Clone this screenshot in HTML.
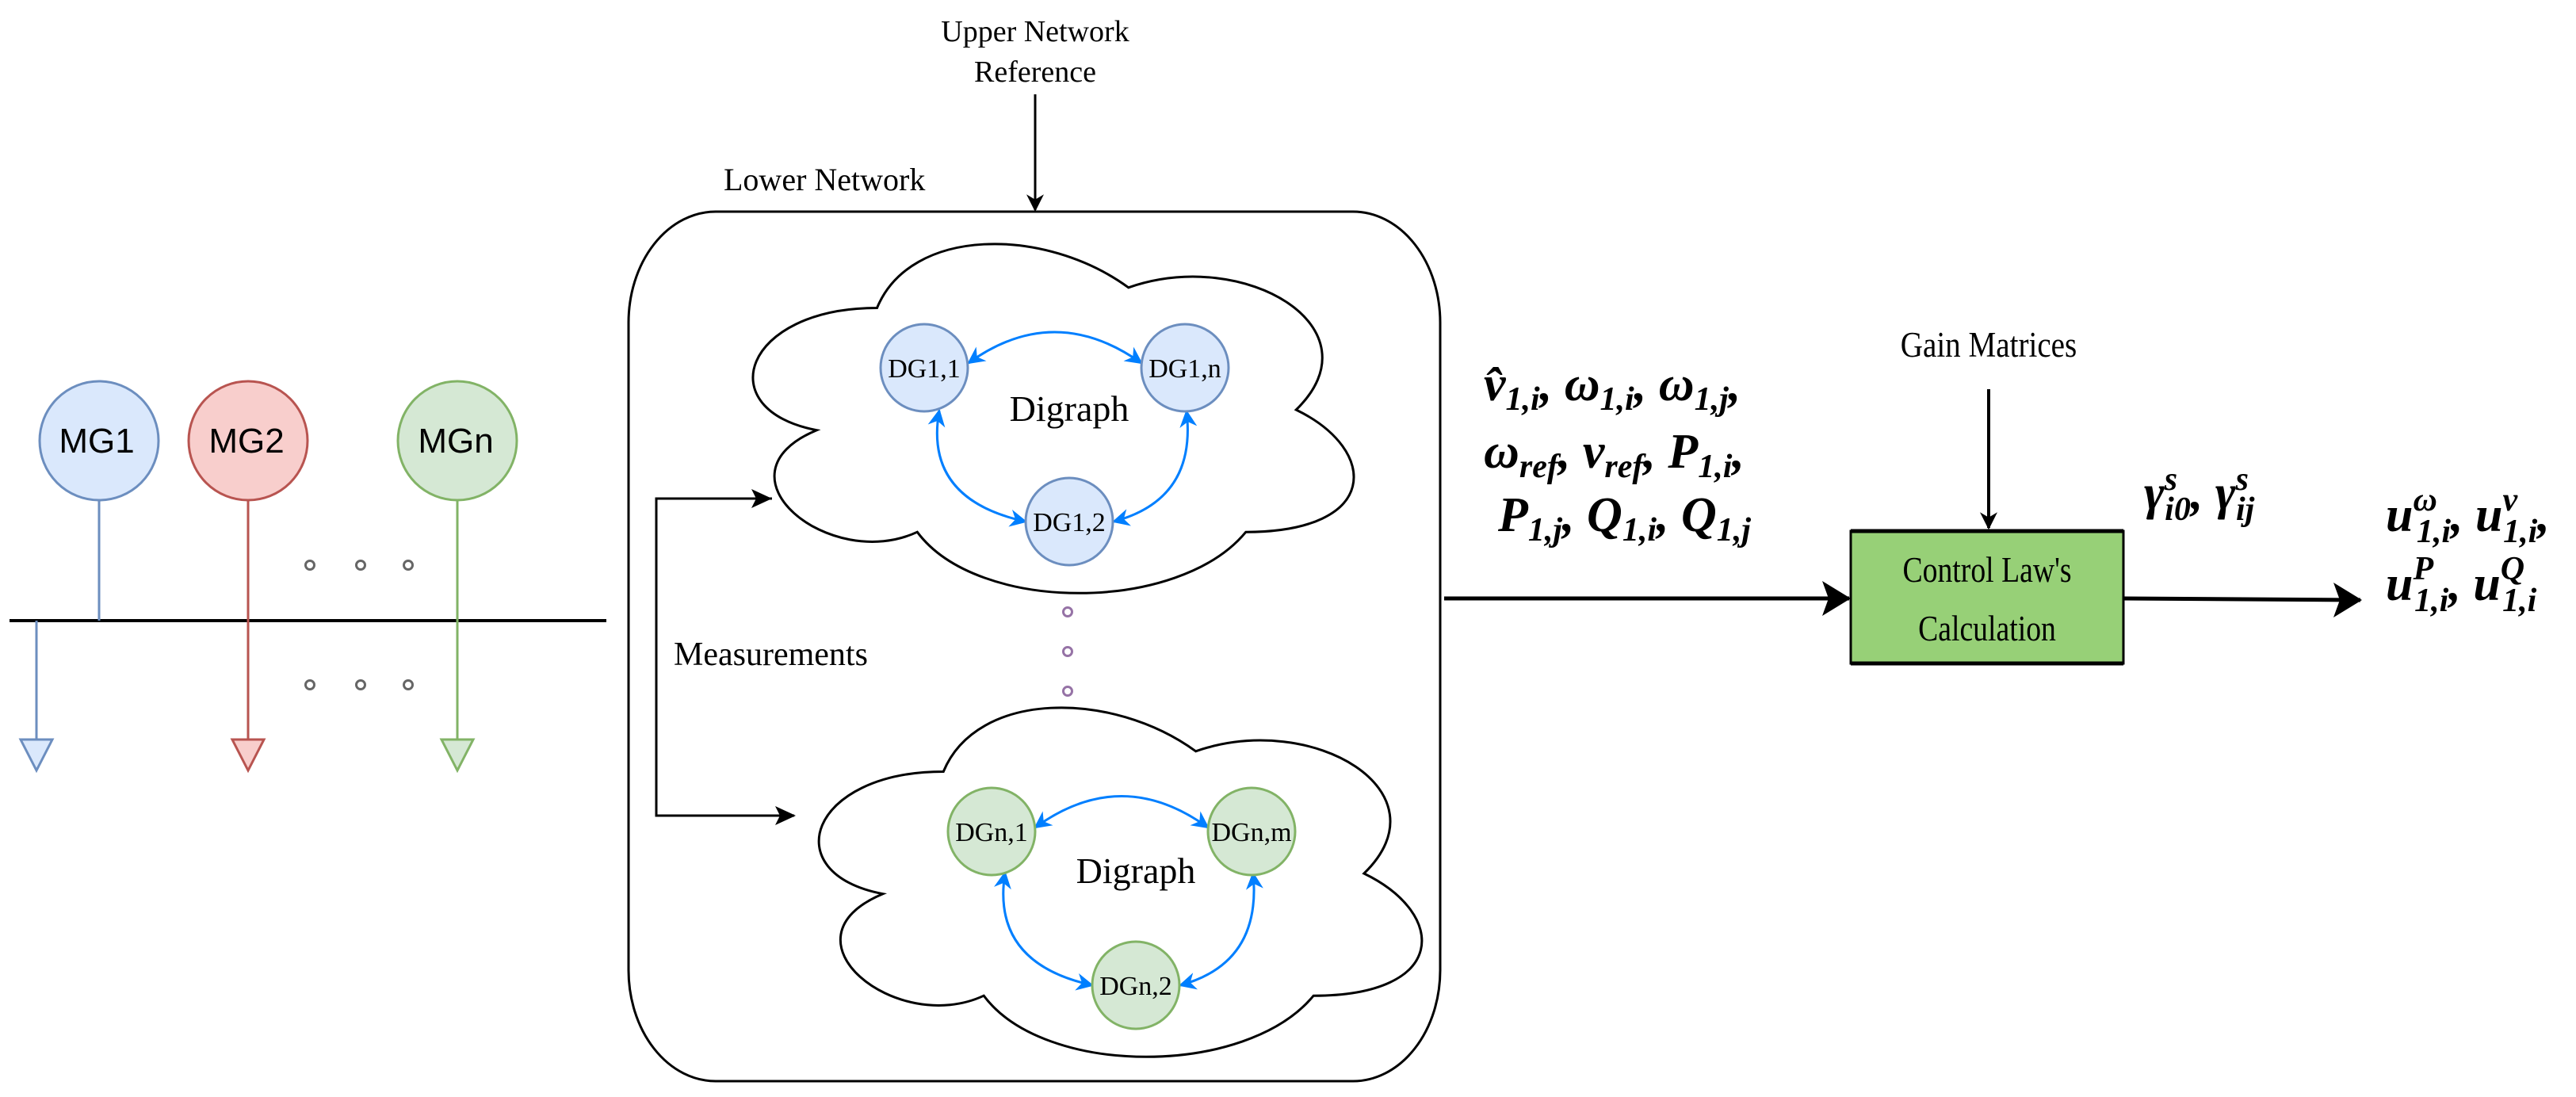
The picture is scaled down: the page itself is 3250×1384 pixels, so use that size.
<!DOCTYPE html>
<html><head><meta charset="utf-8"><style>
html,body{margin:0;padding:0;background:#fff}
svg{display:block}
.s{font-family:"Liberation Serif",serif}
.m{font-family:"Liberation Serif",serif;font-weight:bold;font-style:italic;font-size:62px}
.sub{font-size:42px}
</style></head><body>
<svg width="3250" height="1384" viewBox="0 0 3250 1384" xmlns="http://www.w3.org/2000/svg">
<defs>
<marker id="ab" viewBox="0 0 10 10" refX="9" refY="5" markerWidth="22" markerHeight="22" markerUnits="userSpaceOnUse" orient="auto-start-reverse"><path d="M0,0 L10,5 L0,10 L3,5 Z" fill="#007fff"/></marker>
<marker id="akb" viewBox="0 0 10 10" refX="9" refY="5" markerWidth="22" markerHeight="22" markerUnits="userSpaceOnUse" orient="auto"><path d="M0,0 L10,5 L0,10 L3,5 Z" fill="#000"/></marker>
<path id="cloud" d="M0.25,0.25 C0.05,0.25 0,0.5 0.16,0.55 C0,0.66 0.18,0.9 0.31,0.8 C0.4,1 0.7,1 0.8,0.8 C1,0.8 1,0.6 0.875,0.5 C1,0.3 0.8,0.1 0.625,0.2 C0.5,0.05 0.3,0.05 0.25,0.25 Z" fill="#fff" stroke="#000" stroke-width="3" vector-effect="non-scaling-stroke"/>
</defs>

<!-- Left: microgrids -->
<line x1="12" y1="783" x2="765" y2="783" stroke="#000" stroke-width="4"/>
<line x1="125" y1="631" x2="125" y2="783" stroke="#6c8ebf" stroke-width="3"/>
<line x1="46" y1="783" x2="46" y2="933" stroke="#6c8ebf" stroke-width="3"/>
<polygon points="26,933 66,933 46,972" fill="#dae8fc" stroke="#6c8ebf" stroke-width="3"/>
<line x1="313" y1="631" x2="313" y2="933" stroke="#b85450" stroke-width="3"/>
<polygon points="293,933 333,933 313,972" fill="#f8cecc" stroke="#b85450" stroke-width="3"/>
<line x1="577" y1="631" x2="577" y2="933" stroke="#82b366" stroke-width="3"/>
<polygon points="557,933 597,933 577,972" fill="#d5e8d4" stroke="#82b366" stroke-width="3"/>
<circle cx="125" cy="556" r="75" fill="#dae8fc" stroke="#6c8ebf" stroke-width="3"/>
<circle cx="313" cy="556" r="75" fill="#f8cecc" stroke="#b85450" stroke-width="3"/>
<circle cx="577" cy="556" r="75" fill="#d5e8d4" stroke="#82b366" stroke-width="3"/>
<g font-family="Liberation Sans,sans-serif" font-size="44" text-anchor="middle">
<text x="122" y="571">MG1</text><text x="311" y="571">MG2</text><text x="575" y="571">MGn</text>
</g>
<g fill="none" stroke="#666" stroke-width="3">
<circle cx="391" cy="713" r="5.5"/><circle cx="455" cy="713" r="5.5"/><circle cx="515" cy="713" r="5.5"/>
<circle cx="391" cy="864" r="5.5"/><circle cx="455" cy="864" r="5.5"/><circle cx="515" cy="864" r="5.5"/>
</g>

<!-- Middle -->
<text class="s" x="1306" y="52" font-size="38" text-anchor="middle">Upper Network</text>
<text class="s" x="1306" y="103" font-size="38" text-anchor="middle">Reference</text>
<line x1="1306" y1="119" x2="1306" y2="265" stroke="#000" stroke-width="3" marker-end="url(#akb)"/>
<text class="s" x="913" y="240" font-size="40">Lower Network</text>
<rect x="793" y="267" width="1024" height="1097" rx="110" ry="140" fill="#fff" stroke="#000" stroke-width="3"/>

<use href="#cloud" transform="translate(895,260) scale(846,514)"/>
<use href="#cloud" transform="translate(978,845) scale(849,514)"/>

<!-- measurements -->
<polyline points="974,629 828,629 828,1029 1002,1029" fill="none" stroke="#000" stroke-width="3"/>
<path d="M974,629 l-26,-12 l6,12 l-6,12 Z" fill="#000"/>
<path d="M1004,1029 l-26,-12 l6,12 l-6,12 Z" fill="#000"/>
<text class="s" x="850" y="839" font-size="42">Measurements</text>

<g fill="none" stroke="#9673a6" stroke-width="3">
<circle cx="1347" cy="772" r="5.5"/><circle cx="1347" cy="822" r="5.5"/><circle cx="1347" cy="872" r="5.5"/>
</g>

<g fill="none" stroke="#007fff" stroke-width="3" marker-start="url(#ab)" marker-end="url(#ab)">
<path d="M1222,458 Q1330,380 1440,458"/>
<path d="M1185,518 Q1165,630 1294,658"/>
<path d="M1497,519 Q1510,630 1405,658"/>
<path d="M1306,1044 Q1415,965 1524,1044"/>
<path d="M1268,1101 Q1250,1215 1378,1243"/>
<path d="M1581,1102 Q1592,1215 1489,1243"/>
</g>
<g stroke="#6c8ebf" stroke-width="3" fill="#dae8fc">
<circle cx="1166" cy="464" r="55"/><circle cx="1495" cy="464" r="55"/><circle cx="1349" cy="658" r="55"/>
</g>
<g stroke="#82b366" stroke-width="3" fill="#d5e8d4">
<circle cx="1251" cy="1049" r="55"/><circle cx="1579" cy="1049" r="55"/><circle cx="1433" cy="1243" r="55"/>
</g>
<g class="s" font-size="34" text-anchor="middle">
<text x="1166" y="476">DG1,1</text><text x="1495" y="476">DG1,n</text><text x="1349" y="670">DG1,2</text>
<text x="1251" y="1061">DGn,1</text><text x="1579" y="1061">DGn,m</text><text x="1433" y="1255">DGn,2</text>
</g>
<text class="s" x="1349" y="531" font-size="46" text-anchor="middle">Digraph</text>
<text class="s" x="1433" y="1114" font-size="46" text-anchor="middle">Digraph</text>

<!-- Right -->
<text class="s" x="2509" y="450" font-size="46" text-anchor="middle" transform="translate(2509,0) scale(0.85,1) translate(-2509,0)">Gain Matrices</text>
<line x1="2509" y1="491" x2="2509" y2="666" stroke="#000" stroke-width="4" marker-end="url(#akb)"/>
<line x1="1822" y1="755" x2="2333" y2="755" stroke="#000" stroke-width="5"/>
<path d="M2335,755 l-36,-22 l8,22 l-8,22 Z" fill="#000"/>
<line x1="2679" y1="755" x2="2978" y2="757" stroke="#000" stroke-width="5"/>
<path d="M2980,757 l-36,-22 l8,22 l-8,22 Z" fill="#000"/>
<rect x="2335" y="670" width="344" height="167" fill="#97d077" stroke="#000" stroke-width="3"/>
<line x1="2335" y1="670" x2="2679" y2="670" stroke="#000" stroke-width="5"/>
<line x1="2335" y1="837" x2="2679" y2="837" stroke="#000" stroke-width="5"/>
<g class="s" font-size="46" text-anchor="middle" transform="translate(2507,0) scale(0.82,1) translate(-2507,0)">
<text x="2507" y="734">Control Law's</text><text x="2507" y="808">Calculation</text>
</g>

<text class="m" x="1872" y="505">v̂<tspan class="sub" dy="12">1,i</tspan><tspan dy="-12">, ω</tspan><tspan class="sub" dy="12">1,i</tspan><tspan dy="-12">, ω</tspan><tspan class="sub" dy="12">1,j</tspan><tspan dy="-12">,</tspan></text>
<text class="m" x="1872" y="590">ω<tspan class="sub" dy="12">ref</tspan><tspan dy="-12">, v</tspan><tspan class="sub" dy="12">ref</tspan><tspan dy="-12">, P</tspan><tspan class="sub" dy="12">1,i</tspan><tspan dy="-12">,</tspan></text>
<text class="m" x="1890" y="670">P<tspan class="sub" dy="12">1,j</tspan><tspan dy="-12">, Q</tspan><tspan class="sub" dy="12">1,i</tspan><tspan dy="-12">, Q</tspan><tspan class="sub" dy="12">1,j</tspan></text>

<text class="m" x="2705" y="642">γ<tspan class="sub" dy="-24">s</tspan><tspan class="sub" dx="-16" dy="38">i0</tspan><tspan dy="-14">, γ</tspan><tspan class="sub" dy="-24">s</tspan><tspan class="sub" dx="-16" dy="38">ij</tspan></text>

<text class="m" x="3010" y="670">u<tspan class="sub" dy="-26">ω</tspan><tspan class="sub" dx="-26" dy="40">1,i</tspan><tspan dy="-14">, u</tspan><tspan class="sub" dy="-26">v</tspan><tspan class="sub" dx="-18" dy="40">1,i</tspan><tspan dy="-14">,</tspan></text>
<text class="m" x="3010" y="757">u<tspan class="sub" dy="-26">P</tspan><tspan class="sub" dx="-24" dy="40">1,i</tspan><tspan dy="-14">, u</tspan><tspan class="sub" dy="-26">Q</tspan><tspan class="sub" dx="-28" dy="40">1,i</tspan></text>
</svg>
</body></html>
